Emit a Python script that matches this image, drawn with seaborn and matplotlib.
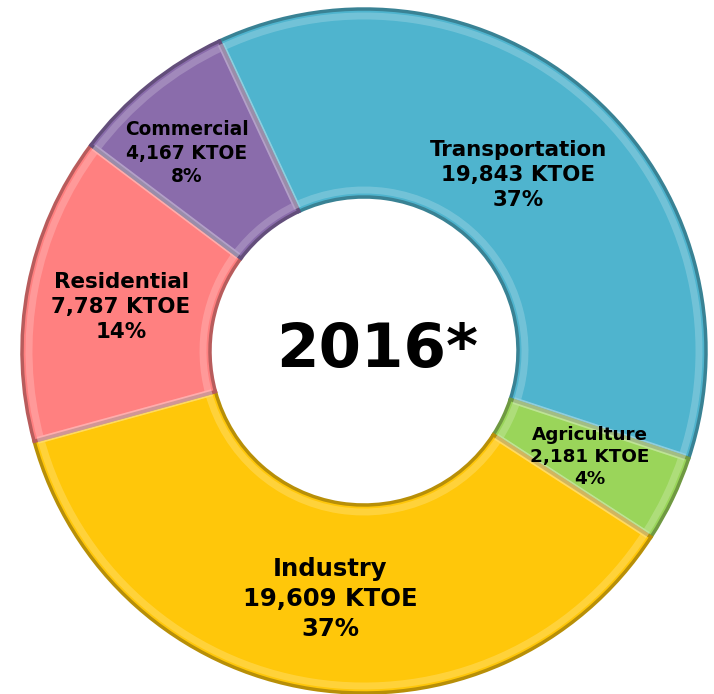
"""
Final energy consumption by sector, 2016 (donut chart).
"""

import matplotlib
matplotlib.use("Agg")
import matplotlib.pyplot as plt
import matplotlib.colors as mcolors
import seaborn as sns

# 数据
sectors = ["Transportation", "Agriculture", "Industry", "Residential", "Commercial"]
ktoe = [19843, 2181, 19609, 7787, 4167]
pct_labels = ["37%", "4%", "37%", "14%", "8%"]
colors = ["#4FB4CE", "#9AD55A", "#FFC70A", "#FF8080", "#8A6CAB"]
center_text = "2016*"

sns.set_theme(style="white")
plt.rcParams["font.family"] = ["DejaVu Sans"]

fig = plt.figure(figsize=(7.14, 6.94), dpi=100)
ax = fig.add_axes([0, 0, 1, 1])

H = 694
cx, cy = 364, H - 351
r_out = 342
ring = 188


def shade(c, f):
    rgb = mcolors.to_rgb(c)
    return tuple(max(0, min(1, v * f)) for v in rgb)


def finish_axes():
    ax.set_xlim(0, 714)
    ax.set_ylim(0, H)
    ax.set_aspect("equal")
    ax.axis("off")


wedges, _ = ax.pie(
    ktoe,
    colors=colors,
    startangle=115,
    counterclock=False,
    center=(cx, cy),
    radius=r_out,
    wedgeprops=dict(width=ring, linewidth=0),
    frame=True,
)

# 模拟斜面效果：深色外边 + 内缩的亮边
for w, c in zip(wedges, colors):
    w.set_edgecolor(shade(c, 0.72))
    w.set_linewidth(2.5)

ax.pie(
    ktoe,
    colors=["none"] * len(ktoe),
    startangle=115,
    counterclock=False,
    center=(cx, cy),
    radius=r_out - 7,
    wedgeprops=dict(width=ring - 14, linewidth=5, fill=False,
                    edgecolor=(1, 1, 1, 0.2)),
    frame=True,
)
finish_axes()

# 标签 (x, y 像素, 字号)
label_pos = {
    "Transportation": (518, 175, 15.4),
    "Agriculture": (590, 457, 13.2),
    "Industry": (330, 599, 17.5),
    "Residential": (121, 307, 15.4),
    "Commercial": (187, 153, 13.4),
}
for name, val, pct in zip(sectors, ktoe, pct_labels):
    x, y, fs = label_pos[name]
    ax.text(x, H - y, f"{name}\n{val:,} KTOE\n{pct}", ha="center", va="center",
            fontsize=fs, fontweight="bold", color="black", linespacing=1.32)

ax.text(377, H - 350, center_text, ha="center", va="center",
        fontsize=44, fontweight="bold", color="black")

fig.savefig("out.png", dpi=100)
